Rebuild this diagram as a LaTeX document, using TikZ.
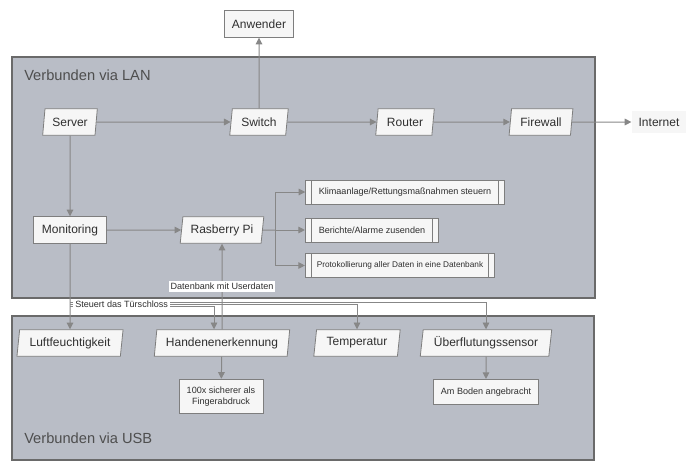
\documentclass[tikz,border=0pt]{standalone}
\usepackage{fontspec}
\setmainfont{Liberation Sans}
\definecolor{gruppe}{HTML}{B9BDC6}
\definecolor{gruppelinie}{HTML}{6A6A6A}
\definecolor{knoten}{HTML}{F6F6F6}
\definecolor{knotenlinie}{HTML}{7E7E7E}
\definecolor{pfeil}{HTML}{878787}
\definecolor{schrift}{HTML}{2F2F2F}
\usetikzlibrary{arrows.meta, shapes.geometric, positioning, calc}

\begin{document}
\begin{tikzpicture}[x=0.75pt, y=-0.75pt,
	every node/.style={text=schrift},
	para/.style={trapezium, trapezium left angle=79, trapezium right angle=101,
		trapezium stretches=true, draw=knotenlinie, fill=knoten, line width=0.6pt,
		minimum height=20pt, inner sep=0pt, font=\fontsize{9}{11}\selectfont},
	kasten/.style={rectangle, draw=knotenlinie, fill=knoten, line width=0.6pt,
		minimum height=20pt, inner sep=0pt, font=\fontsize{9}{11}\selectfont},
	klein/.style={kasten, font=\fontsize{6.8}{8.5}\selectfont, align=center},
	prozess/.style={klein, minimum height=18pt,
		path picture={
			\draw[knotenlinie, line width=0.6pt]
				([xshift=4.5pt]path picture bounding box.north west) -- ([xshift=4.5pt]path picture bounding box.south west)
				([xshift=-4.5pt]path picture bounding box.north east) -- ([xshift=-4.5pt]path picture bounding box.south east);
		}},
	gruppenname/.style={anchor=west, inner sep=0pt, text=schrift!85, font=\fontsize{11}{13}\selectfont},
	pfeilstil/.style={draw=pfeil, line width=0.75pt, -{Triangle[width=5pt,length=5pt]}},
	linie/.style={draw=pfeil, line width=0.75pt},
	schild/.style={fill=white, inner sep=1.5pt, font=\fontsize{6.8}{8.5}\selectfont}]
	\useasboundingbox (0,0) rectangle (697,471);
	% gruppen
	\draw[gruppelinie, fill=gruppe, line width=1pt] (12,57) rectangle (595,298);
	\node[gruppenname] (lan) at (24,75) {Verbunden via LAN};
	\draw[gruppelinie, fill=gruppe, line width=1pt] (12,316) rectangle (594,460);
	\node[gruppenname] (usb) at (24,438) {Verbunden via USB};
	% netzwerk
	\node[kasten, minimum width=52pt] (anwender) at (259,24) {Anwender};
	\node[para, minimum width=41pt] (server) at (70,122) {Server};
	\node[para, minimum width=44pt] (switch) at (259,122) {Switch};
	\node[para, minimum width=44pt] (router) at (405,122) {Router};
	\node[para, minimum width=48pt] (firewall) at (541,122) {Firewall};
	\node[rectangle, fill=knoten, minimum width=41pt, minimum height=17pt, inner sep=0pt,
		font=\fontsize{9}{11}\selectfont] (internet) at (659,122) {Internet};
	\node[kasten, minimum width=55pt] (monitoring) at (70,230) {Monitoring};
	\node[para, minimum width=63pt] (rpi) at (222,230) {Rasberry Pi};
	% aufgaben
	\node[prozess, minimum width=149pt] (klima) at (405,192) {Klimaanlage/Rettungsmaßnahmen steuern};
	\node[prozess, minimum width=100pt] (berichte) at (372,230) {Berichte/Alarme zusenden};
	\node[prozess, minimum width=142pt, minimum height=17.5pt,
		font=\fontsize{6.2}{8}\selectfont] (protokoll) at (400,265.5) {Protokollierung aller Daten in eine Datenbank};
	% sensoren
	\node[para, minimum width=80pt] (luft) at (70,343) {Luftfeuchtigkeit};
	\node[para, minimum width=102pt] (hand) at (222,343) {Handenenerkennung};
	\node[para, minimum width=65pt] (temp) at (357,343) {Temperatur};
	\node[para, minimum width=99pt] (flut) at (486,343) {Überflutungssensor};
	\node[klein, minimum width=63pt, minimum height=26pt] (sicher) at (221,396.5) {100x sicherer als\\Fingerabdruck};
	\node[klein, minimum width=79pt, minimum height=19pt] (boden) at (486,392) {Am Boden angebracht};
	% verbindungen
	\draw[pfeilstil] (switch) -- (anwender);
	\draw[pfeilstil] (server) -- (switch);
	\draw[pfeilstil] (switch) -- (router);
	\draw[pfeilstil] (router) -- (firewall);
	\draw[pfeilstil] (firewall) -- (internet);
	\draw[pfeilstil] (server) -- (monitoring);
	\draw[pfeilstil] (monitoring) -- (rpi);
	\coordinate (verteiler) at (275,230);
	\draw[linie] (rpi) -- (verteiler);
	\draw[pfeilstil] (verteiler) |- (klima);
	\draw[pfeilstil] (verteiler) -- (berichte);
	\draw[pfeilstil] (verteiler) |- (protokoll);
	\draw[pfeilstil] (hand) -- node[schild] (userdaten) {Datenbank mit Userdaten} (rpi);
	\draw[pfeilstil] (hand) -- (sicher);
	\draw[pfeilstil] (flut) -- (boden);
	% tuerschloss
	\coordinate (abzweig1) at (70,302);
	\coordinate (abzweig2) at (70,304);
	\coordinate (abzweig3) at (70,306);
	\draw[pfeilstil] (monitoring) -- (luft);
	\draw[pfeilstil, line width=0.6pt] (abzweig1) -| (flut);
	\draw[pfeilstil, line width=0.6pt] (abzweig2) -| (temp);
	\draw[pfeilstil, line width=0.6pt] (abzweig3) -| ([xshift=-6pt]hand.north);
	\node[schild, anchor=west] (schloss) at (73,304.5) {Steuert das Türschloss};
\end{tikzpicture}
\end{document}
